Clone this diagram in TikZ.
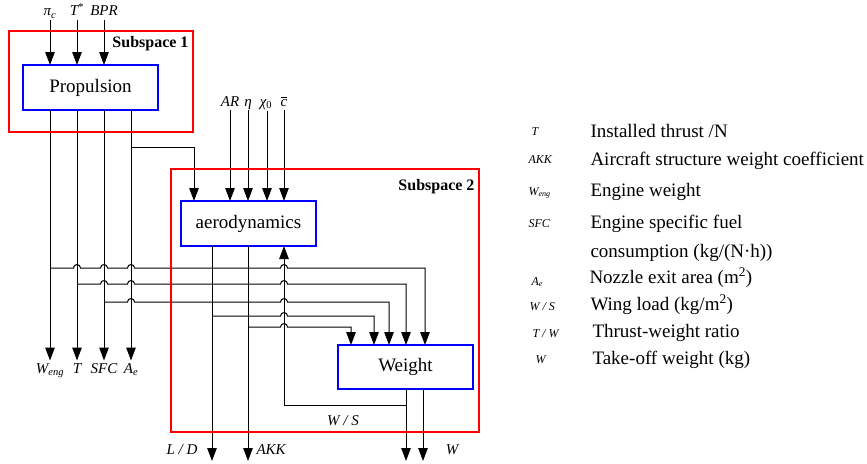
\documentclass[tikz,border=0pt]{standalone}
\usepackage{fontspec}
\setmainfont{Liberation Serif}
\usetikzlibrary{arrows.meta}
% hop of a horizontal line over a vertical one at x=#1, y=#2
\newcommand{\hopat}[2]{-- ({#1-3.5},#2) arc[start angle=180,end angle=0,radius=3.5pt]}

\begin{document}
\begin{tikzpicture}[x=1pt, y=-1pt, >={Triangle[length=13pt,width=9.5pt]}, line width=1pt,
    blk/.style={draw=blue, line width=1.8pt, fill=white, minimum width=135pt, minimum height=45pt,
      inner sep=0pt, outer sep=0pt, font=\fontsize{19}{22}\selectfont},
    sub/.style={draw=red, line width=1.8pt, inner sep=0pt, outer sep=0pt},
    sublbl/.style={font=\fontsize{16}{19}\selectfont\bfseries, anchor=base east, inner sep=0pt},
    lbl/.style={font=\fontsize{15}{18}\selectfont\itshape, inner sep=1pt, text height=0.7em, text depth=0.25em},
    key/.style={font=\fontsize{12}{14}\selectfont\itshape, anchor=base west, inner sep=0pt},
    desc/.style={font=\fontsize{19}{22}\selectfont, anchor=base west, inner sep=0pt}]
  \useasboundingbox (0,0) rectangle (867,463);

  % blocks
  \node[blk] (prop) at (90.5,87.5) {Propulsion};
  \node[blk] (aero) at (248.5,223.5) {aerodynamics};
  \node[blk, minimum height=44pt] (wt) at (405.5,367) {Weight};

  % inputs of propulsion
  \node[lbl, anchor=base] (pic) at (50,16) {π\textsubscript{c}};
  \node[lbl, anchor=base] (tst) at (77,16) {T\textsuperscript{\upshape *}};
  \node[lbl, anchor=base] (bpr) at (104,16) {BPR};
  \draw[->] (pic.south) -- (pic.south |- prop.north);
  \draw[->] (tst.south) -- (tst.south |- prop.north);
  \draw[->] (bpr.south) -- (bpr.south |- prop.north);

  % outputs of propulsion
  \node[lbl, anchor=base] (weng) at (50,373) {W\textsubscript{eng}};
  \node[lbl, anchor=base] (thr) at (77,373) {T};
  \node[lbl, anchor=base] (sfc) at (104,373) {SFC};
  \node[lbl, anchor=base] (ae) at (131,373) {A\textsubscript{e}};
  \draw[->, shorten >=4pt] (prop.south -| weng) -- (weng.north);
  \draw[->, shorten >=4pt] (prop.south -| thr) -- (thr.north);
  \draw[->, shorten >=4pt] (prop.south -| sfc) -- (sfc.north);
  \draw[->, shorten >=4pt] (prop.south -| ae) -- (ae.north);

  % inputs of aerodynamics
  \node[lbl, anchor=base] (ar) at (230,106) {AR};
  \node[lbl, anchor=base] (eta) at (248,106) {η};
  \node[lbl, anchor=base] (chi) at (266,106) {χ\textsubscript{\upshape 0}};
  \node[lbl, anchor=base] (cbar) at (284,106) {$\overline{\mbox{\itshape c}}$};
  \coordinate (chix) at (267,111);
  \draw[->] (ar.south) -- (ar.south |- aero.north);
  \draw[->] (eta.south) -- (eta.south |- aero.north);
  \draw[->] (chix) -- (chix |- aero.north);
  \draw[->] (cbar.south) -- (cbar.south |- aero.north);
  \coordinate (aej) at (131,147);
  \coordinate (aec) at (194,147);
  \draw[->] (aej) -- (aec) -- (aec |- aero.north);

  % outputs of aerodynamics
  \coordinate (ldend) at (212,461);
  \coordinate (akkend) at (248,461);
  \draw[->] (aero.south -| ldend) -- (ldend);
  \draw[->] (aero.south -| akkend) -- (akkend);
  \node[lbl, anchor=base east] (ld) at (199,454) {L / D};
  \node[lbl, anchor=base west] (akk) at (255,454) {AKK};

  % feeds into weight
  \coordinate (f1) at (50,268);  \coordinate (g1) at (425,268);
  \coordinate (f2) at (77,284);  \coordinate (g2) at (406,284);
  \coordinate (f3) at (104,302); \coordinate (g3) at (389,302);
  \coordinate (f4) at (212,316); \coordinate (g4) at (374,316);
  \coordinate (f5) at (248,327); \coordinate (g5) at (351,327);
  \draw[->] (f1) \hopat{77}{268} \hopat{104}{268} \hopat{131}{268} \hopat{284}{268} -- (g1) -- (g1 |- wt.north);
  \draw[->] (f2) \hopat{104}{284} \hopat{131}{284} \hopat{284}{284} -- (g2) -- (g2 |- wt.north);
  \draw[->] (f3) \hopat{131}{302} \hopat{284}{302} -- (g3) -- (g3 |- wt.north);
  \draw[->] (f4) \hopat{284}{316} -- (g4) -- (g4 |- wt.north);
  \draw[->] (f5) \hopat{284}{327} -- (g5) -- (g5 |- wt.north);

  % outputs of weight
  \coordinate (w1end) at (406,461);
  \coordinate (w2end) at (423,461);
  \draw[->] (wt.south -| w1end) -- (w1end);
  \draw[->] (wt.south -| w2end) -- (w2end);
  \node[lbl, anchor=base] (wout) at (452,454) {W};
  \coordinate (wsj) at (406,405);
  \coordinate (wsc) at (284,405);
  \draw[->] (wsj) -- (wsc) -- (wsc |- aero.south);
  \node[lbl, anchor=base] (ws) at (343,425) {W / S};

  % subspaces
  \node[sub, minimum width=184pt, minimum height=101pt] (s1) at (101,81.5) {};
  \node[sub, minimum width=308pt, minimum height=263pt] (s2) at (325,300.5) {};
  \node[sublbl] (s1lbl) at (189,47) {Subspace 1};
  \node[sublbl] (s2lbl) at (475,190) {Subspace 2};

  % legend
  \node[key] (k1) at (531,135) {T};
  \node[key] (k2) at (528,163) {AKK};
  \node[key] (k3) at (528,195) {W\textsubscript{eng}};
  \node[key] (k4) at (528,227) {SFC};
  \node[key] (k5) at (531,285) {A\textsubscript{e}};
  \node[key] (k6) at (529,310) {W / S};
  \node[key] (k7) at (532,337) {T / W};
  \node[key] (k8) at (535,363) {W};
  \node[desc] (d1) at (590,137) {Installed thrust /N};
  \node[desc] (d2) at (590,165) {Aircraft structure weight coefficient};
  \node[desc] (d3) at (590,196) {Engine weight};
  \node[desc] (d4) at (590,228) {Engine specific fuel};
  \node[desc] (d5) at (590,257) {consumption (kg/(N·h))};
  \node[desc] (d6) at (589,283) {Nozzle exit area (m\textsuperscript{2})};
  \node[desc] (d7) at (590,310) {Wing load (kg/m\textsuperscript{2})};
  \node[desc] (d8) at (592,337) {Thrust-weight ratio};
  \node[desc] (d9) at (592,364) {Take-off weight (kg)};
\end{tikzpicture}
\end{document}
